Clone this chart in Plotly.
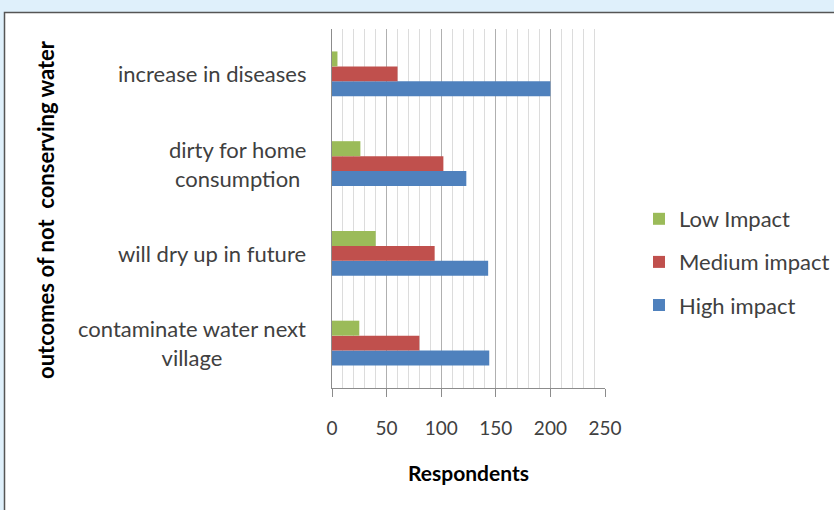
import plotly.graph_objects as go

categories = ["contaminate water next<br>village", "will dry up in future",
              "dirty for home<br>consumption", "increase in diseases"]
cat_keys = ["contaminate", "dry", "dirty", "diseases"]
high_impact = [144, 143, 123, 200]
medium_impact = [80, 94, 102, 60]
low_impact = [25, 40, 26, 5]
x_ticks = [0, 50, 100, 150, 200, 250]

FONT = "Lato"
L, R, T, B = 332, 605, 29, 388
W, H = 834, 510

fig = go.Figure()
series = [("High impact", high_impact, "#4f81bd", 3),
          ("Medium impact", medium_impact, "#c0504d", 2),
          ("Low Impact", low_impact, "#9bbb59", 1)]
for name, vals, col, rank in series:
    fig.add_trace(go.Bar(y=cat_keys, x=vals, name=name, orientation="h",
                         marker=dict(color=col, line=dict(width=0)),
                         legendgroup=name, legendrank=rank))

def px_x(p):
    return (p - L) / (R - L)

def px_y(p):
    return (B - p) / (B - T)

annotations = []
for key, lab in zip(cat_keys, categories):
    annotations.append(dict(x=px_x(308), xref="paper", y=key, yref="y",
                            text=lab, showarrow=False, xanchor="right",
                            align="center",
                            font=dict(family=FONT, size=22, color="#404040")))
annotations.append(dict(x=px_x(46), xref="paper", y=px_y(210), yref="paper",
                        text="<b>outcomes of not  conserving water</b>", textangle=-90,
                        showarrow=False, xanchor="center", yanchor="middle",
                        font=dict(family=FONT, size=22, color="#000000")))

fig.update_layout(
    width=W, height=H,
    margin=dict(l=L, r=W - R, t=T, b=H - B, pad=0, autoexpand=False),
    barmode="group", bargap=0.5, bargroupgap=0,
    paper_bgcolor="#dff0fb", plot_bgcolor="#ffffff",
    showlegend=True,
    legend=dict(x=px_x(639), y=px_y(198), xanchor="left", yanchor="top",
                traceorder="grouped", tracegroupgap=11.5,
                font=dict(family=FONT, size=22, color="#404040"),
                bgcolor="rgba(0,0,0,0)", itemwidth=30),
    xaxis=dict(range=[0, 250], tickvals=x_ticks, showgrid=True,
               gridcolor="#b0b0b0", gridwidth=1,
               minor=dict(dtick=10, showgrid=True, gridcolor="#dcdcdc", gridwidth=1,
                          ticks=""),
               showline=True, linecolor="#8c8c8c", linewidth=1,
               ticks="outside", ticklen=8, tickcolor="#8c8c8c",
               ticklabelstandoff=15,
               tickfont=dict(family=FONT, size=19, color="#404040"),
               zeroline=False,
               title=dict(text="<b>Respondents</b>", standoff=28,
                          font=dict(family=FONT, size=21, color="#000000"))),
    yaxis=dict(categoryorder="array", categoryarray=cat_keys,
               showticklabels=False, showgrid=False, zeroline=False,
               showline=True, linecolor="#8c8c8c", linewidth=1,
               ticks="", fixedrange=True),
    annotations=annotations,
    shapes=[dict(type="rect", xref="paper", yref="paper", layer="below",
                 x0=px_x(4.5), x1=px_x(900), y0=px_y(600), y1=px_y(12.5),
                 fillcolor="#ffffff", line=dict(color="#555555", width=1.5))],
)

fig.write_html("out.html", config={"displayModeBar": False},
               post_script="document.body.style.margin='0';document.body.style.overflow='hidden';")
